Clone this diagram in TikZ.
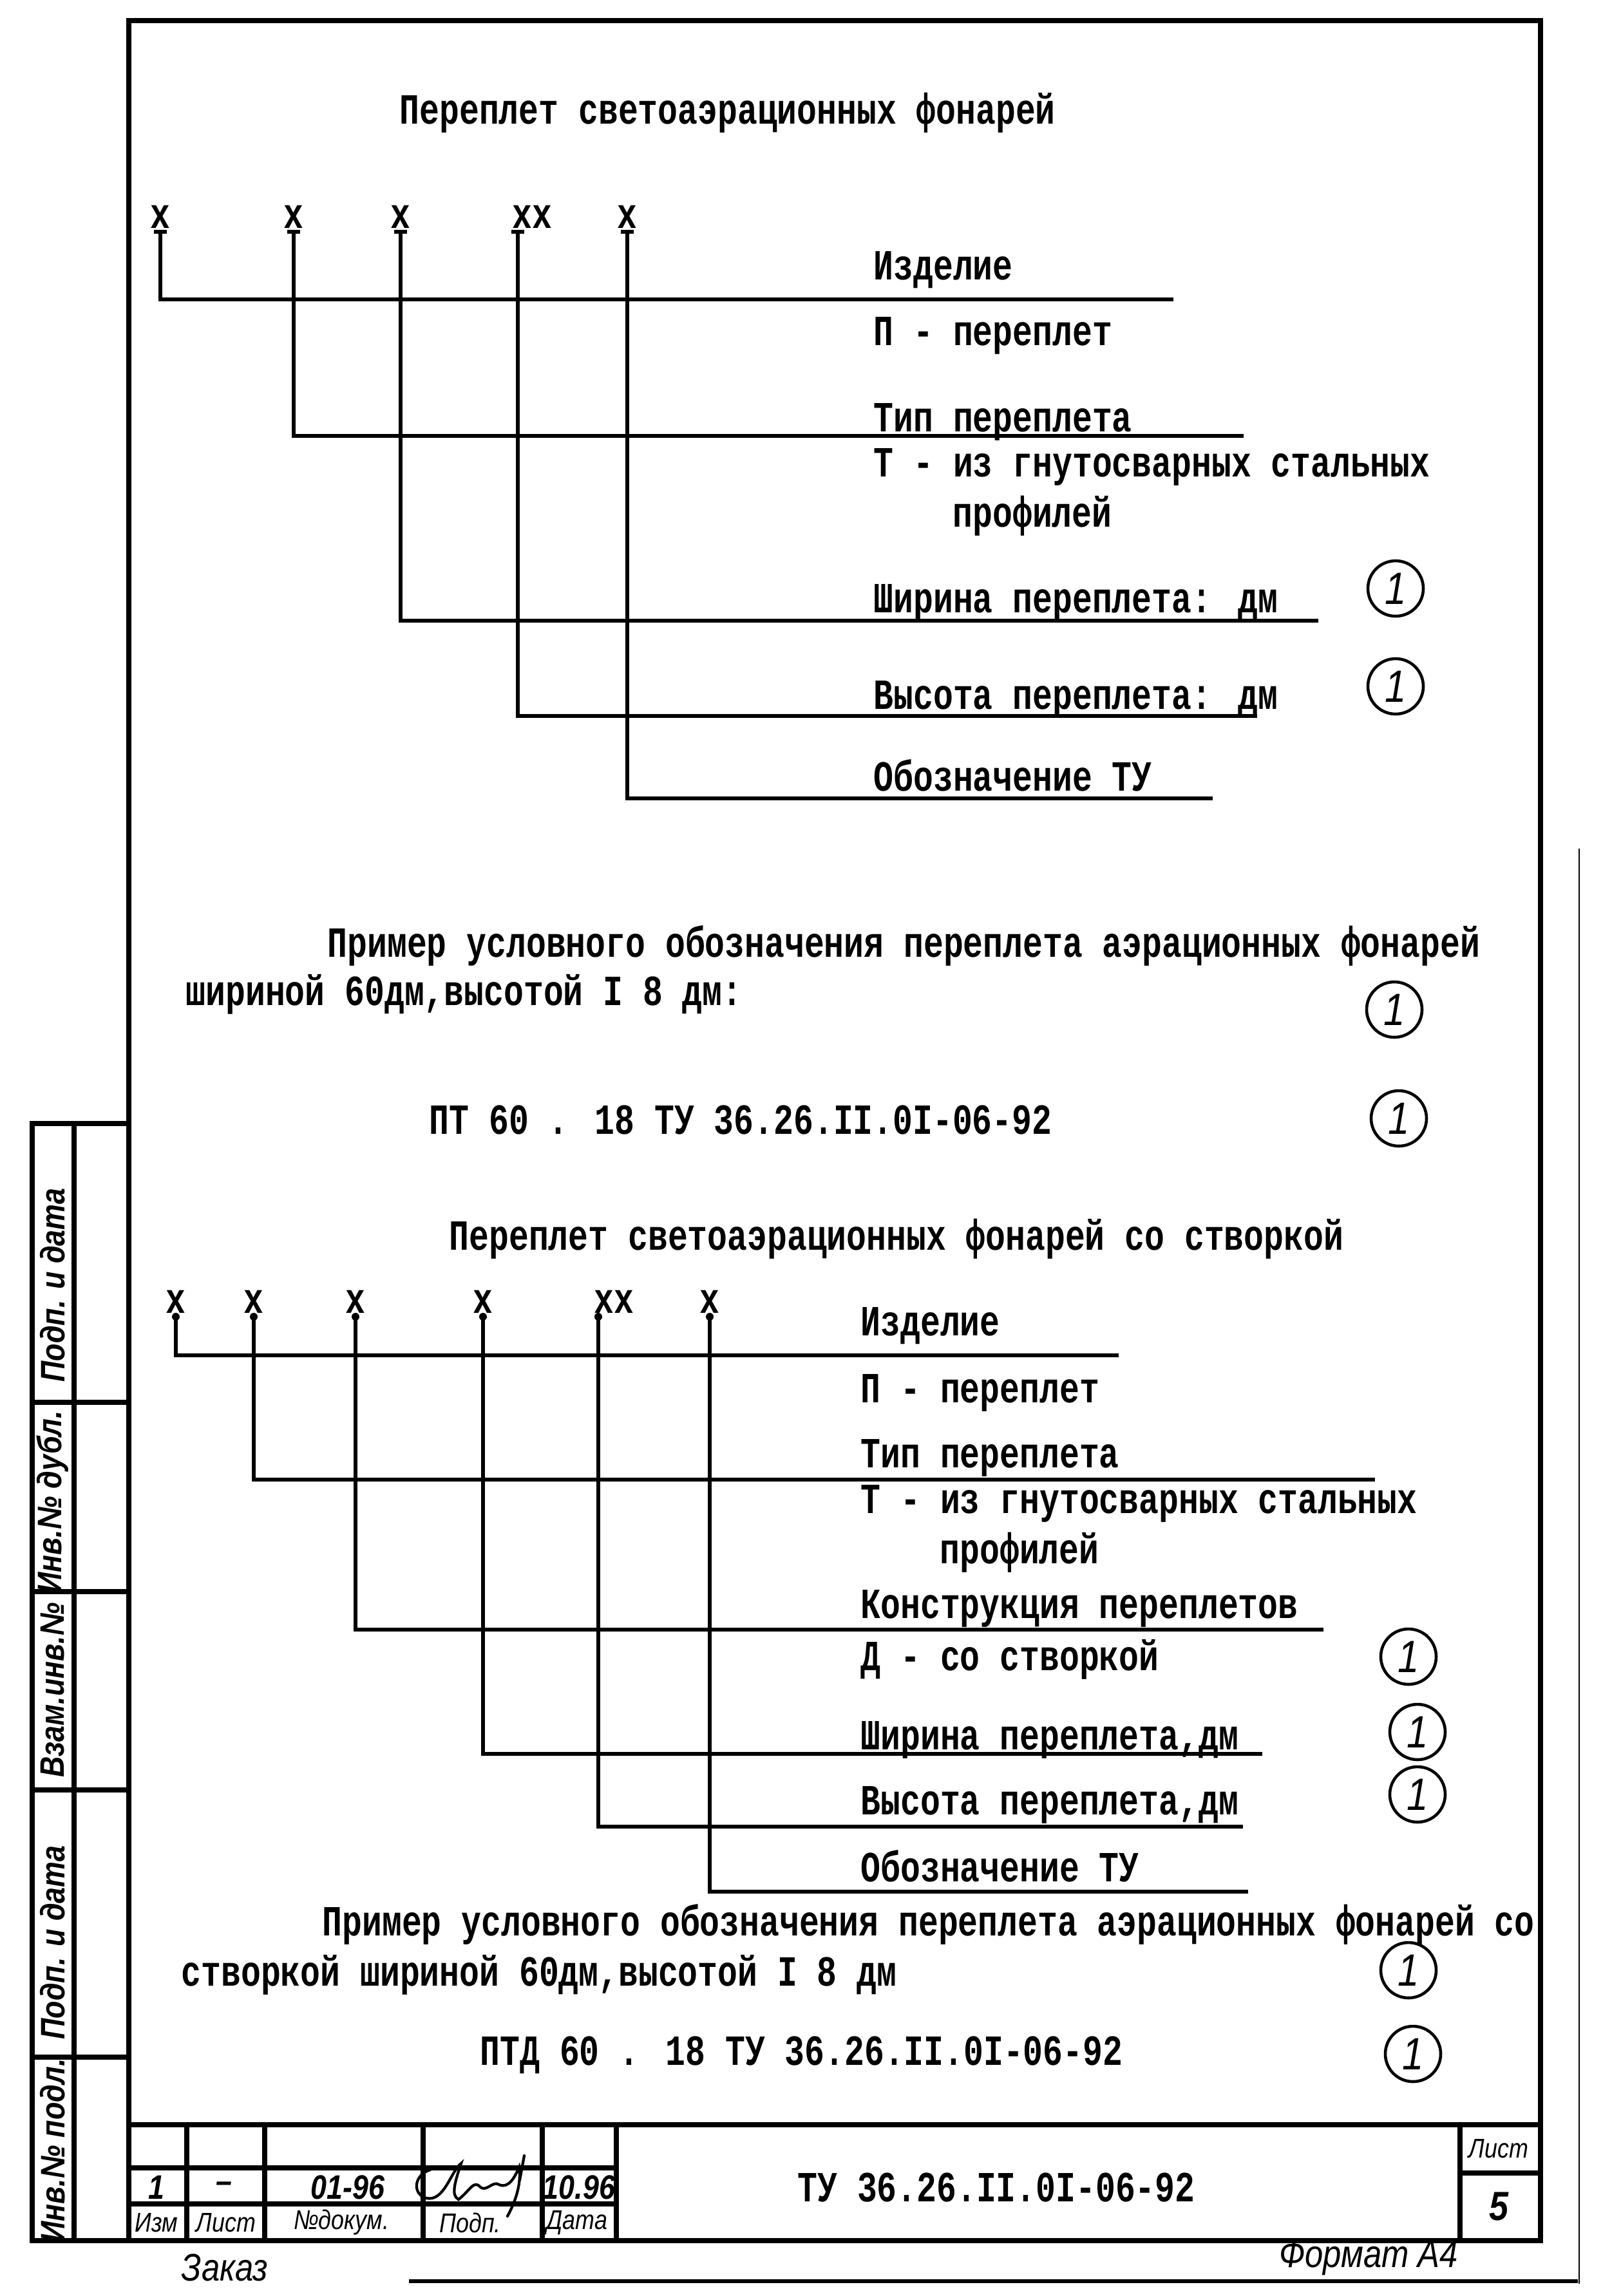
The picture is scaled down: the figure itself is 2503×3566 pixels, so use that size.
\documentclass[tikz,border=0pt]{standalone}
\usepackage{fontspec}
\usepackage{tikz}
\usetikzlibrary{calc}
\newfontfamily\typew[FakeStretch=0.77]{Liberation Mono}
\newfontfamily\handw[FakeStretch=0.85]{Liberation Sans}

\begin{document}
\begin{tikzpicture}[
        x=0.1mm, y=-0.1mm,
        frame/.style={line width=2.2pt},
        lead/.style={line width=1.8pt},
        txt/.style={font=\typew\bfseries\fontsize{19}{23}\selectfont, inner sep=0pt, anchor=base west},
        xmark/.style={font=\typew\bfseries\fontsize{19}{23}\selectfont, inner sep=0.5mm, anchor=south},
        hand/.style={font=\handw\bfseries\itshape\fontsize{15}{18}\selectfont, inner sep=0pt},
        cellhand/.style={font=\handw\itshape\fontsize{12}{14}\selectfont, inner sep=0pt},
        rev/.style={circle, draw, line width=1.3pt, minimum size=8.6mm, inner sep=0pt, font=\handw\itshape\fontsize{20}{24}\selectfont}
    ]
        \fill[white] (0,0) rectangle (2503,3566);

        % frame and side stamp
        \draw[frame] (50,3480) -- (2392,3480) -- (2392,32) -- (200,32) -- (200,3480);
        \draw[frame] (50,1745) rectangle (200,3480);
        \draw[frame] (115,1745) -- (115,3480);
        \foreach \y in {2178,2472,2780,3195}
            \draw[frame] (50,\y) -- (200,\y);
        \node[hand, rotate=90] (stp1) at (82,1996) {Подп. и дата};
        \node[hand, rotate=90] (stp2) at (82,2333) {Инв.№ дубл.};
        \node[hand, rotate=90] (stp3) at (82,2625) {Взам.инв.№};
        \node[hand, rotate=90] (stp4) at (82,3017) {Подп. и дата};
        \node[hand, rotate=90] (stp5) at (82,3340) {Инв.№ подл.};

        % first scheme
        \node[txt] (title1) at (620,192) {Переплет светоаэрационных фонарей};
        \node[xmark] (a1) at (249,360) {x};
        \node[xmark] (a2) at (456,360) {x};
        \node[xmark] (a3) at (622,360) {x};
        \node[xmark, anchor=south west] (a4) at (790,360) {xx};
        \node[xmark] (a5) at (974,360) {x};
        \node[txt] (p1) at (1356,434) {Изделие};
        \node[txt] (p1v) at (1356,536) {П - переплет};
        \node[txt] (p2) at (1356,670) {Тип переплета};
        \node[txt] (p2v) at (1356,740) {Т - из гнутосварных стальных};
        \node[txt] (p2w) at (1479,818) {профилей};
        \node[txt] (p3) at (1356,951) {Ширина переплета: дм};
        \node[txt] (p4) at (1356,1101) {Высота переплета: дм};
        \node[txt] (p5) at (1356,1228) {Обозначение ТУ};
        \coordinate (e1) at (1822,465);
        \coordinate (e2) at (1931,677);
        \coordinate (e3) at (2047,964);
        \coordinate (e4) at (1952,1112);
        \coordinate (e5) at (1883,1240);
        \draw[lead] (a1.south) |- (e1);
        \draw[lead] (a2.south) |- (e2);
        \draw[lead] (a3.south) |- (e3);
        \draw[lead] ([xshift=1.4mm]a4.south west) |- (e4);
        \draw[lead] (a5.south) |- (e5);
        \foreach \m in {a1,a2,a3,a5}
            \draw[lead] ([xshift=-1mm]\m.south) -- ([xshift=1mm]\m.south);
        \draw[lead] ([xshift=0.4mm]a4.south west) -- ([xshift=2.4mm]a4.south west);
        \node[rev] (r1) at (2167,914) {1};
        \node[rev] (r2) at (2167,1066) {1};

        \node[txt] (ex1a) at (508,1486) {Пример условного обозначения переплета аэрационных фонарей};
        \node[txt] (ex1b) at (288,1561) {шириной 60дм,высотой I 8 дм:};
        \node[rev] (r3) at (2165,1568) {1};
        \node[txt] (code1) at (666,1761) {ПТ 60 . 18 ТУ 36.26.II.0I-06-92};
        \node[rev] (r4) at (2172,1737) {1};

        % second scheme
        \node[txt] (title2) at (697,1941) {Переплет  светоаэрационных фонарей со створкой};
        \node[xmark] (b1) at (273,2045) {x};
        \node[xmark] (b2) at (394,2045) {x};
        \node[xmark] (b3) at (552,2045) {x};
        \node[xmark] (b4) at (750,2045) {x};
        \node[xmark, anchor=south west] (b5) at (917,2045) {xx};
        \node[xmark] (b6) at (1102,2045) {x};
        \node[txt] (q1) at (1336,2074) {Изделие};
        \node[txt] (q1v) at (1336,2178) {П - переплет};
        \node[txt] (q2) at (1336,2279) {Тип переплета};
        \node[txt] (q2v) at (1336,2350) {Т - из гнутосварных стальных};
        \node[txt] (q2w) at (1459,2428) {профилей};
        \node[txt] (q3) at (1336,2513) {Конструкция переплетов};
        \node[txt] (q3v) at (1336,2594) {Д - со створкой};
        \node[txt] (q4) at (1336,2717) {Ширина переплета,дм};
        \node[txt] (q5) at (1336,2818) {Высота переплета,дм};
        \node[txt] (q6) at (1336,2922) {Обозначение ТУ};
        \coordinate (f1) at (1737,2105);
        \coordinate (f2) at (2135,2298);
        \coordinate (f3) at (2055,2531);
        \coordinate (f4) at (1960,2724);
        \coordinate (f5) at (1930,2837);
        \coordinate (f6) at (1938,2938);
        \draw[lead] (b1.south) |- (f1);
        \draw[lead] (b2.south) |- (f2);
        \draw[lead] (b3.south) |- (f3);
        \draw[lead] (b4.south) |- (f4);
        \draw[lead] ([xshift=1.2mm]b5.south west) |- (f5);
        \draw[lead] (b6.south) |- (f6);
        \foreach \m in {b1,b2,b3,b4,b6}
            \fill (\m.south) circle (6);
        \fill ([xshift=1.2mm]b5.south west) circle (6);
        \node[rev] (r5) at (2187,2573) {1};
        \node[rev] (r6) at (2201,2690) {1};
        \node[rev] (r7) at (2201,2787) {1};

        \node[txt] (ex2a) at (500,3006) {Пример условного обозначения переплета аэрационных фонарей со};
        \node[txt] (ex2b) at (281,3084) {створкой шириной 60дм,высотой I 8 дм};
        \node[rev] (r8) at (2187,3060) {1};
        \node[txt] (code2) at (745,3207) {ПТД 60 . 18  ТУ 36.26.II.0I-06-92};
        \node[rev] (r9) at (2194,3190) {1};

        % title block
        \draw[frame] (200,3300) -- (2392,3300);
        \foreach \x in {290,411,657,842,957}
            \draw[frame] (\x,3300) -- (\x,3480);
        \draw[frame] (200,3367) -- (957,3367);
        \draw[frame] (200,3423) -- (957,3423);
        \draw[frame] (2267,3300) -- (2267,3480);
        \draw[frame] (2267,3375) -- (2392,3375);
        \node[hand] (chg) at (243,3397) {1};
        \node[hand] (chgsh) at (348,3397) {–};
        \node[hand] (chgdoc) at (540,3397) {01-96};
        \node[hand] (chgdate) at (899,3397) {10.96};
        \draw[line width=1.2pt, line cap=round] (668,3370) .. controls (642,3378) and (640,3408) .. (662,3414)
            .. controls (690,3420) and (700,3372) .. (716,3360) .. controls (706,3390) and (700,3410) .. (712,3416)
            .. controls (730,3402) and (735,3386) .. (745,3396) .. controls (755,3406) and (765,3386) .. (775,3393)
            .. controls (790,3400) and (800,3380) .. (806,3366) .. controls (810,3392) and (800,3420) .. (788,3442);
        \draw[line width=1.2pt, line cap=round] (814,3348) -- (807,3386);
        \node[cellhand] (hizm) at (243,3452) {Изм};
        \node[cellhand] (hlist) at (351,3452) {Лист};
        \node[cellhand] (hdoc) at (530,3452) {№докум.};
        \node[cellhand] (hsign) at (730,3452) {Подп.};
        \node[cellhand] (hdate) at (896,3452) {Дата};
        \node[txt, anchor=center] (docno) at (1547,3397) {ТУ 36.26.II.0I-06-92};
        \node[cellhand] (sheetlbl) at (2327,3337) {Лист};
        \node[hand, font=\handw\bfseries\itshape\fontsize{18}{20}\selectfont] (sheetno) at (2327,3427) {5};

        \node[hand, font=\handw\itshape\fontsize{17}{20}\selectfont] (order) at (349,3522) {Заказ};
        \node[hand, font=\handw\itshape\fontsize{17}{20}\selectfont] (format) at (2125,3507) {Формат А4};
        \draw[line width=1.6pt] (635,3543) -- (2450,3543);
        \draw[line width=0.8pt] (2452,1318) -- (2452,3547);
    \end{tikzpicture}
\end{document}
